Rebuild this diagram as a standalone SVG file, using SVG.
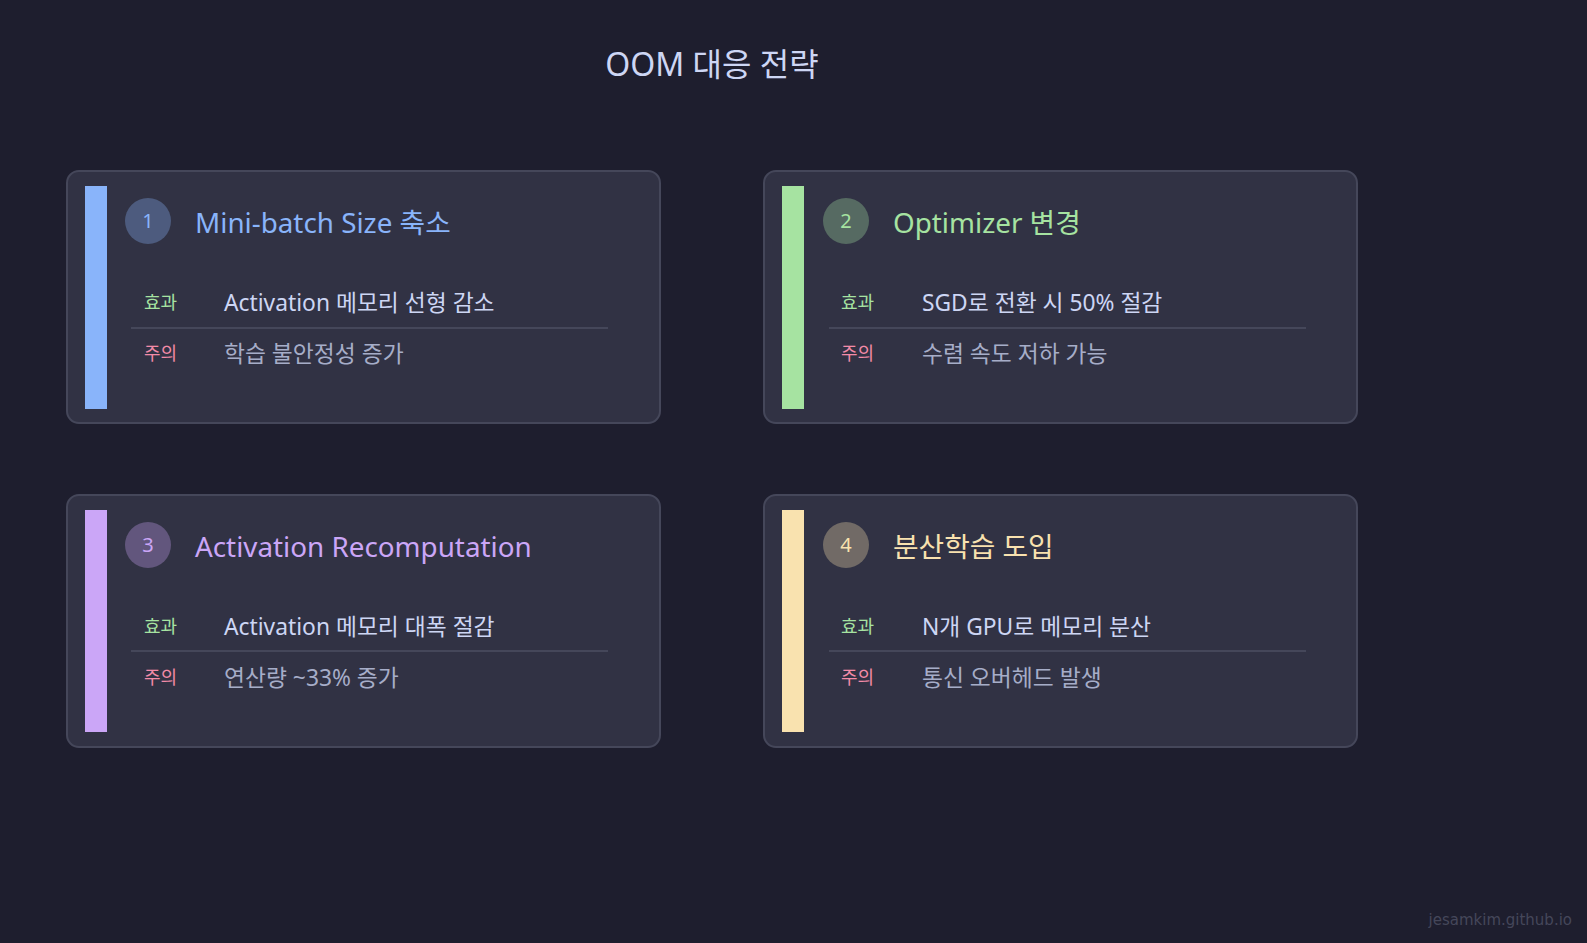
<svg xmlns="http://www.w3.org/2000/svg" width="1587" height="943" viewBox="0 0 1587 943">
<style>
text{font-family:"Noto Sans","Noto Sans CJK KR",sans-serif}
.card{fill:#313244;stroke:#45475a;stroke-width:2}
.title{font-size:32px;fill:#cdd6f4;text-anchor:middle}
.ct{font-size:27.8px}
.num{font-size:20px;text-anchor:middle}
.lab{font-size:18px}
.eff{fill:#a6e3a1}
.warn{fill:#f38ba8}
.v1{font-size:22.8px;fill:#cdd6f4}
.v2{font-size:22.8px;fill:#a6adc8}
.div{stroke:#45475a;stroke-width:2}
.foot{font-family:"DejaVu Sans",sans-serif;font-size:15px;fill:#45475a;text-anchor:end}
</style>
<rect width="1587" height="943" fill="#1e1e2e"/>
<text class="title" x="712" y="76">OOM 대응 전략</text>

<g id="card1">
<rect class="card" x="67" y="171" width="593" height="252" rx="12"/>
<rect x="85" y="186" width="22" height="223" fill="#89b4fa"/>
<circle cx="148" cy="221" r="23" fill="#89b4fa" fill-opacity="0.32"/>
<text class="num" x="148" y="228" fill="#89b4fa">1</text>
<text class="ct" x="195" y="233" fill="#89b4fa">Mini-batch Size 축소</text>
<text class="lab eff" x="144" y="309">효과</text>
<text class="v1" x="224" y="311">Activation 메모리 선형 감소</text>
<line class="div" x1="131" y1="328" x2="608" y2="328"/>
<text class="lab warn" x="144" y="360">주의</text>
<text class="v2" x="224" y="362">학습 불안정성 증가</text>
</g>

<g id="card2">
<rect class="card" x="764" y="171" width="593" height="252" rx="12"/>
<rect x="782" y="186" width="22" height="223" fill="#a6e3a1"/>
<circle cx="846" cy="221" r="23" fill="#a6e3a1" fill-opacity="0.32"/>
<text class="num" x="846" y="228" fill="#a6e3a1">2</text>
<text class="ct" x="893" y="233" fill="#a6e3a1">Optimizer 변경</text>
<text class="lab eff" x="841" y="309">효과</text>
<text class="v1" x="922" y="311">SGD로 전환 시 50% 절감</text>
<line class="div" x1="829" y1="328" x2="1306" y2="328"/>
<text class="lab warn" x="841" y="360">주의</text>
<text class="v2" x="922" y="362">수렴 속도 저하 가능</text>
</g>

<g id="card3">
<rect class="card" x="67" y="495" width="593" height="252" rx="12"/>
<rect x="85" y="510" width="22" height="222" fill="#cba6f7"/>
<circle cx="148" cy="545" r="23" fill="#cba6f7" fill-opacity="0.32"/>
<text class="num" x="148" y="552" fill="#cba6f7">3</text>
<text class="ct" x="195" y="557" fill="#cba6f7">Activation Recomputation</text>
<text class="lab eff" x="144" y="633">효과</text>
<text class="v1" x="224" y="635">Activation 메모리 대폭 절감</text>
<line class="div" x1="131" y1="651" x2="608" y2="651"/>
<text class="lab warn" x="144" y="684">주의</text>
<text class="v2" x="224" y="686">연산량 ~33% 증가</text>
</g>

<g id="card4">
<rect class="card" x="764" y="495" width="593" height="252" rx="12"/>
<rect x="782" y="510" width="22" height="222" fill="#f9e2af"/>
<circle cx="846" cy="545" r="23" fill="#f9e2af" fill-opacity="0.32"/>
<text class="num" x="846" y="552" fill="#f9e2af">4</text>
<text class="ct" x="893" y="557" fill="#f9e2af">분산학습 도입</text>
<text class="lab eff" x="841" y="633">효과</text>
<text class="v1" x="922" y="635">N개 GPU로 메모리 분산</text>
<line class="div" x1="829" y1="651" x2="1306" y2="651"/>
<text class="lab warn" x="841" y="684">주의</text>
<text class="v2" x="922" y="686">통신 오버헤드 발생</text>
</g>

<g id="connectors"></g>
<text class="foot" x="1572" y="925">jesamkim.github.io</text>
</svg>
